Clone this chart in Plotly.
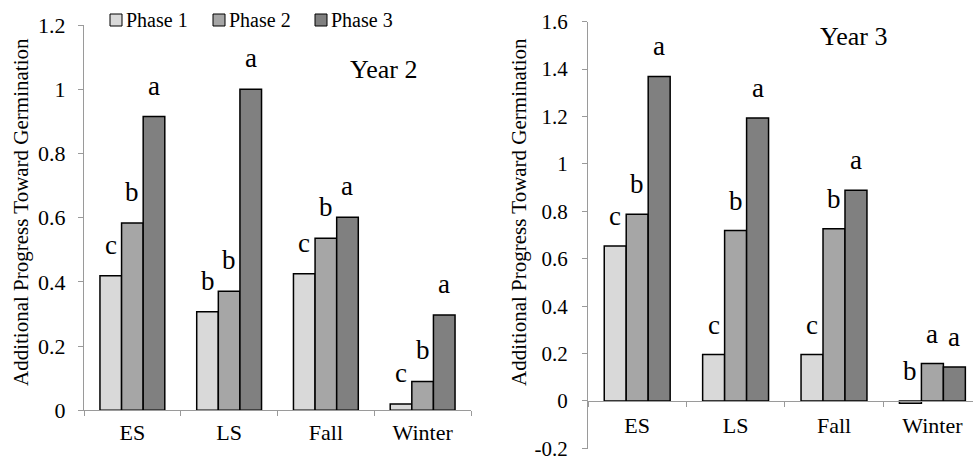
import plotly.graph_objects as go

# ---------------- data ----------------
categories = ["ES", "LS", "Fall", "Winter"]
phases = ["Phase 1", "Phase 2", "Phase 3"]

year2_phase1 = [0.419, 0.307, 0.425, 0.020]
year2_phase2 = [0.583, 0.371, 0.536, 0.090]
year2_phase3 = [0.915, 1.000, 0.601, 0.297]

year3_phase1 = [0.654, 0.196, 0.196, -0.010]
year3_phase2 = [0.788, 0.719, 0.727, 0.158]
year3_phase3 = [1.369, 1.194, 0.889, 0.143]

year2_letters_p1 = ["c", "b", "c", "c"]
year2_letters_p2 = ["b", "b", "b", "b"]
year2_letters_p3 = ["a", "a", "a", "a"]

year3_letters_p1 = ["c", "c", "c", "b"]
year3_letters_p2 = ["b", "b", "b", "a"]
year3_letters_p3 = ["a", "a", "a", "a"]

y2_tickvals = [0, 0.2, 0.4, 0.6, 0.8, 1.0, 1.2]
y2_ticktext = ["0", "0.2", "0.4", "0.6", "0.8", "1", "1.2"]
y3_tickvals = [-0.2, 0, 0.2, 0.4, 0.6, 0.8, 1.0, 1.2, 1.4, 1.6]
y3_ticktext = ["-0.2", "0", "0.2", "0.4", "0.6", "0.8", "1", "1.2", "1.4", "1.6"]

# ---------------- style ----------------
colors = ["#D9D9D9", "#A6A6A6", "#808080"]
FONT = "Liberation Serif"
AXIS_GREY = "#9A9A9A"
W, H = 973, 462
BARGAP = 0.33


def px_x(x):
    return x / W


def px_y(y):
    return 1 - y / H


# plot areas in pixels
L_X = (84, 471)
L_Y = (25, 410.3)
R_X = (588, 973)
R_Y = (21.7, 448.5)
R_CAT_PX = 98.4  # width of one category on the right panel
R_ZERO_PX = R_Y[1] - (R_Y[1] - R_Y[0]) * 0.2 / 1.8

fig = go.Figure()

y2 = [year2_phase1, year2_phase2, year2_phase3]
y3 = [year3_phase1, year3_phase2, year3_phase3]
l2 = [year2_letters_p1, year2_letters_p2, year2_letters_p3]
l3 = [year3_letters_p1, year3_letters_p2, year3_letters_p3]

for i, name in enumerate(phases):
    fig.add_trace(go.Bar(x=categories, y=y2[i], name=name, marker_color=colors[i],
                         marker_line_color="black", marker_line_width=1.5,
                         xaxis="x", yaxis="y", showlegend=False))
for i, name in enumerate(phases):
    fig.add_trace(go.Bar(x=categories, y=y3[i], name=name, marker_color=colors[i],
                         marker_line_color="black", marker_line_width=1.5,
                         xaxis="x2", yaxis="y2", showlegend=False))

annotations = []
# significance letters
l_bw = (L_X[1] - L_X[0]) / 4 * (1 - BARGAP) / 3
r_bw = R_CAT_PX * (1 - BARGAP) / 3
for i in range(3):
    for j, c in enumerate(categories):
        annotations.append(dict(x=c, y=max(y2[i][j], 0), xref="x", yref="y",
                                text=l2[i][j], showarrow=False, xanchor="center",
                                yanchor="bottom", xshift=(i - 1) * l_bw, yshift=14,
                                font=dict(family=FONT, size=27, color="black")))
        annotations.append(dict(x=c, y=max(y3[i][j], 0), xref="x2", yref="y2",
                                text=l3[i][j], showarrow=False, xanchor="center",
                                yanchor="bottom", xshift=(i - 1) * r_bw, yshift=13,
                                font=dict(family=FONT, size=27, color="black")))

# year labels
annotations.append(dict(x=px_x(383), y=px_y(70), xref="paper", yref="paper", text="Year 2",
                        xanchor="center", yanchor="middle",
                        showarrow=False, font=dict(family=FONT, size=26, color="black")))
annotations.append(dict(x=px_x(853), y=px_y(36), xref="paper", yref="paper", text="Year 3",
                        xanchor="center", yanchor="middle",
                        showarrow=False, font=dict(family=FONT, size=26, color="black")))

# axis titles
for xc in (21, 519):
    annotations.append(dict(x=px_x(xc), y=px_y(212), xref="paper", yref="paper",
                            text="Additional Progress Toward Germination", textangle=-90,
                            xanchor="center", yanchor="middle",
                            showarrow=False, font=dict(family=FONT, size=21, color="black")))

# legend (manual, small squares next to text)
shapes = []
legend_x = [110, 213, 315]
for i, name in enumerate(phases):
    x0 = legend_x[i]
    shapes.append(dict(type="rect", xref="paper", yref="paper",
                       x0=px_x(x0), x1=px_x(x0 + 12), y0=px_y(26), y1=px_y(14),
                       fillcolor=colors[i], line=dict(color="black", width=1)))
    annotations.append(dict(x=px_x(x0 + 14), y=px_y(20), xref="paper", yref="paper",
                            text=name, showarrow=False, xanchor="left", yanchor="middle",
                            font=dict(family=FONT, size=20, color="black")))

axis_common = dict(showgrid=False, zeroline=False, showline=True, linecolor=AXIS_GREY,
                   linewidth=1.3, ticks="outside", tickcolor=AXIS_GREY, ticklen=5,
                   tickwidth=1.3, automargin=False, ticklabeloverflow="allow",
                   tickfont=dict(family=FONT, size=22, color="black"))
right_y_axis = dict(axis_common, tickfont=dict(family=FONT, size=21, color="black"))

fig.update_layout(
    template="none",
    width=W, height=H, autosize=False,
    margin=dict(l=0, r=0, t=0, b=0, pad=0),
    paper_bgcolor="white", plot_bgcolor="white",
    font=dict(family=FONT, color="black"),
    barmode="group", bargap=BARGAP, bargroupgap=0,
    showlegend=False,
    xaxis=dict(domain=[px_x(L_X[0]), px_x(L_X[1])], anchor="y", type="category",
               tickson="boundaries", range=[-0.5, 3.5], ticklabelstandoff=2,
               **axis_common),
    yaxis=dict(domain=[px_y(L_Y[1]), px_y(L_Y[0])], anchor="x", range=[0, 1.2],
               tickvals=y2_tickvals, ticktext=y2_ticktext, ticklabelstandoff=8,
               **axis_common),
    xaxis2=dict(domain=[px_x(R_X[0]), px_x(R_X[1])], anchor="free",
                position=px_y(R_ZERO_PX), type="category", tickson="boundaries",
                range=[-0.5, 3.5 - (R_X[0] + 4 * R_CAT_PX - R_X[1]) / R_CAT_PX],
                ticklabelstandoff=4, **axis_common),
    yaxis2=dict(domain=[px_y(R_Y[1]), px_y(R_Y[0])], anchor="x2", range=[-0.2005, 1.6],
                tickvals=y3_tickvals, ticktext=y3_ticktext, ticklabelstandoff=10,
                **right_y_axis),
    annotations=annotations,
    shapes=shapes,
)

fig.write_html("out.html", config={"displayModeBar": False},
               post_script="document.body.style.margin='0';document.body.style.overflow='hidden';")
